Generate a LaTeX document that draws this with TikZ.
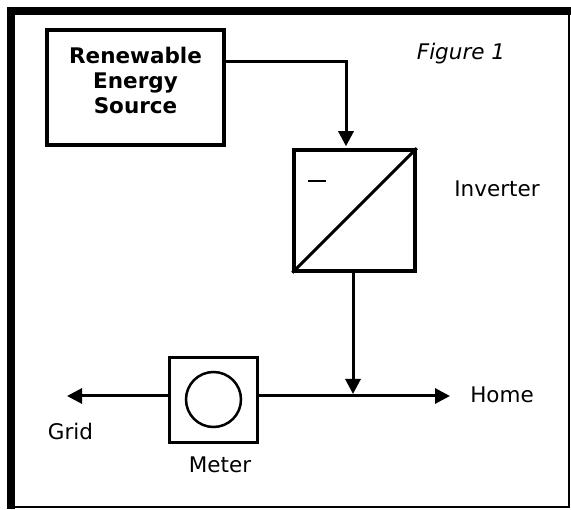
\documentclass[tikz,border=0pt]{standalone}
\usepackage{fontspec}
\setmainfont{DejaVu Sans}
\usetikzlibrary{arrows.meta,calc}

\tikzset{
    blockbox/.style={draw, line width=3.5pt, inner sep=0pt},
    flow/.style={line width=3pt, -{Triangle[length=15pt,width=15pt]}},
    lbl/.style={font=\fontsize{21.5}{25}\selectfont, inner sep=0pt, anchor=base}
}

\begin{document}
\begin{tikzpicture}[x=1pt, y=-1pt]
        \useasboundingbox (0,0) rectangle (571,510);
        % frame
        \draw[line width=8pt] (11,509) -- (11,11) -- (571,11);
        \draw[line width=2.5pt] (569,15) -- (569,507) -- (15,507);

        \node[blockbox, minimum width=177pt, minimum height=115pt, align=center,
              font=\fontsize{21.5}{25}\selectfont\bfseries, text depth=14pt] (res) at (135.5,87.5) {Renewable\\Energy\\Source};
        \node[blockbox, minimum width=121pt, minimum height=121pt] (inv) at (354.5,210.5) {};
        \node[blockbox, line width=3pt, minimum width=88pt, minimum height=85pt] (met) at (213.5,400) {};
        \node[draw, circle, line width=2.5pt, minimum size=55pt, inner sep=0pt] (dial) at (213.5,399.5) {};

        \draw[line width=3pt] (inv.south west) -- (inv.north east);
        \draw[line width=2.5pt] ($(inv.north west)+(16,33)$) -- ($(inv.north west)+(34,33)$);

        \node[lbl] (fig) at (461,60) {\itshape Figure 1};
        \node[lbl] (invlbl) at (497,197) {Inverter};
        \node[lbl] (home) at (502,403) {Home};
        \node[lbl] (grid) at (70.5,440) {Grid};
        \node[lbl] (metlbl) at (220,473) {Meter};

        \coordinate (feed) at (346,62);
        \coordinate (junc) at (353,396);
        \coordinate (gridend) at (67,396);
        \coordinate (homeend) at (450,396);

        \draw[flow] (res.east |- feed) -- (feed) -- ([yshift=2pt]feed |- inv.north);
        \draw[flow] (inv.south -| junc) -- ([yshift=2pt]junc);
        \draw[flow] (met.east |- junc) -- (homeend);
        \draw[flow] (met.west |- junc) -- (gridend);
    \end{tikzpicture}
\end{document}
